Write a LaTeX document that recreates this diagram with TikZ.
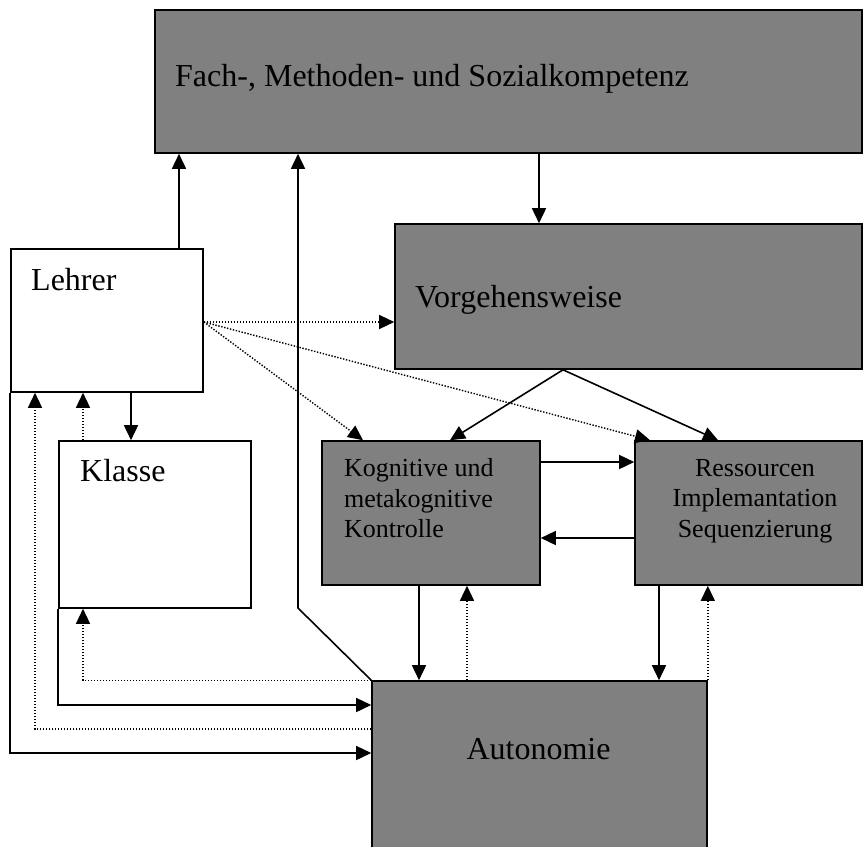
\documentclass[tikz,border=0pt]{standalone}
\usepackage{fontspec}
\setmainfont{Liberation Serif}
\usetikzlibrary{arrows.meta}
\definecolor{boxgray}{HTML}{808080}
\tikzset{
  box/.style={draw, line width=1.6pt, rectangle, inner sep=0pt},
  graybox/.style={box, fill=boxgray},
  whitebox/.style={box, fill=white},
  bigtext/.style={inner sep=0pt, font=\fontsize{32}{38}\selectfont},
  smalltext/.style={inner sep=0pt, font=\fontsize{26}{30.5}\selectfont},
  arr/.style={line width=1.6pt, -{Triangle[length=15pt,width=14pt]}},
  darr/.style={line width=1.4pt, dash pattern=on 1.4pt off 1.6pt, -{Triangle[length=15pt,width=14pt]}}
}
\begin{document}
\begin{tikzpicture}[x=1pt,y=-1pt]
          \useasboundingbox (0,0) rectangle (864,846);
          \node[graybox, minimum width=707pt, minimum height=143pt] (fach) at (508.5,81.5) {};
          \node[whitebox, minimum width=192pt, minimum height=143pt] (lehrer) at (107,320.5) {};
          \node[graybox, minimum width=467pt, minimum height=145pt] (vorg) at (628.5,296.5) {};
          \node[whitebox, minimum width=192pt, minimum height=167pt] (klasse) at (155,524.5) {};
          \node[graybox, minimum width=218pt, minimum height=144pt] (kogn) at (431,513) {};
          \node[graybox, minimum width=227pt, minimum height=144pt] (ress) at (748.5,513) {};
          \node[graybox, minimum width=335pt, minimum height=170pt] (auto) at (539.5,766) {};

          \node[bigtext, anchor=base west] (fachtext) at (175,86) {Fach-, Methoden- und Sozialkompetenz};
          \node[bigtext, anchor=base west] (lehrertext) at (31,290) {Lehrer};
          \node[bigtext, anchor=base west] (vorgtext) at (415,307) {Vorgehensweise};
          \node[bigtext, anchor=base west] (klassetext) at (80,481.5) {Klasse};
          \node[smalltext, anchor=north west, align=left] (kogntext) at (344,458.5) {Kognitive und\\metakognitive\\Kontrolle};
          \node[smalltext, anchor=north, align=center] (resstext) at (755,459) {Ressourcen\\Implemantation\\Sequenzierung};
          \node[bigtext, anchor=base] (autotext) at (538.5,759) {Autonomie};

          \coordinate (vb) at (vorg.south -| 563,0);
          \coordinate (ld) at (lehrer.east |- 0,322);

          \draw[arr] (fach.south -| 539,0) -- (vorg.north -| 539,0);
          \draw[arr] (lehrer.north -| 179,0) -- (fach.south -| 179,0);
          \draw[arr] (auto.north west) -- (298,608) -- (fach.south -| 298,0);
          \draw[arr] (vb) -- (kogn.north -| 450,0);
          \draw[arr] (vb) -- (ress.north -| 718,0);
          \draw[darr] (ld) -- (vorg.west |- ld);
          \draw[darr] (ld) -- (kogn.north -| 363,0);
          \draw[darr] (ld) -- (ress.north -| 650,0);
          \draw[arr] (kogn.east |- 0,462) -- (ress.west |- 0,462);
          \draw[arr] (ress.west |- 0,538) -- (kogn.east |- 0,538);
          \draw[arr] (kogn.south -| 419,0) -- (auto.north -| 419,0);
          \draw[darr] (auto.north -| 467,0) -- (kogn.south -| 467,0);
          \draw[arr] (ress.south -| 659,0) -- (auto.north -| 659,0);
          \draw[darr] (auto.north east) -- (ress.south -| auto.north east);

          % Lehrer, Klasse and Autonomie
          \draw[arr] (lehrer.south -| 131,0) -- (klasse.north -| 131,0);
          \draw[darr] (klasse.north -| 83,0) -- (lehrer.south -| 83,0);
          \draw[darr] (auto.north west) -| (klasse.south -| 83,0);
          \draw[arr] (klasse.south west) |- (auto.west |- 0,705);
          \draw[darr] (auto.west |- 0,729) -| (lehrer.south -| 35,0);
          \draw[arr] (lehrer.south west) |- (auto.west |- 0,753);
        \end{tikzpicture}
\end{document}
